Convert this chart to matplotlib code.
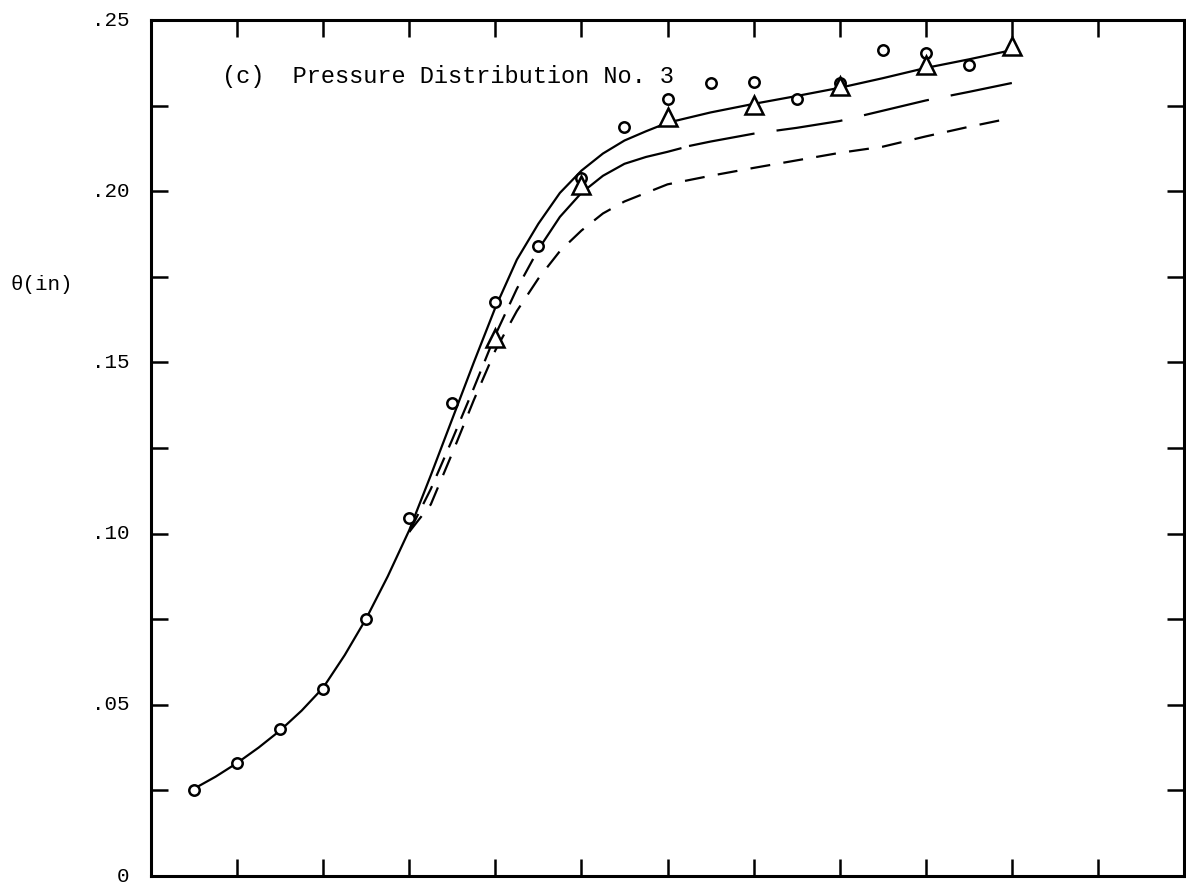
import matplotlib
matplotlib.use("Agg")
import matplotlib.pyplot as plt

# ---- data ----
circle_x = [0.5, 1.0, 1.5, 2.0, 2.5, 3.0, 3.5, 4.0, 4.5, 5.0, 5.5, 6.0, 6.5, 7.0, 7.5, 8.0, 8.5, 9.0, 9.5]
circle_y = [0.0251, 0.0330, 0.0429, 0.0546, 0.0751, 0.1046, 0.1380, 0.1676, 0.1840, 0.2040,
            0.2188, 0.2270, 0.2316, 0.2319, 0.2269, 0.2315, 0.2412, 0.2403, 0.2369]

tri_x = [4.0, 5.0, 6.0, 7.0, 8.0, 9.0, 10.0]
tri_y = [0.1570, 0.2018, 0.2217, 0.2252, 0.2307, 0.2369, 0.2424]

upper_x = [0.5, 0.75, 1.0, 1.25, 1.5, 1.75, 2.0, 2.25, 2.5, 2.75, 3.0, 3.25, 3.5, 3.75, 4.0,
           4.25, 4.5, 4.75, 5.0, 5.25, 5.5, 5.75, 6.0, 6.5, 7.0, 7.5, 8.0, 8.5, 9.0, 9.5, 10.0]
upper_y = [0.0255, 0.0290, 0.0330, 0.0375, 0.0425, 0.0483, 0.0550, 0.0645, 0.0752, 0.0875,
           0.1010, 0.1170, 0.1335, 0.1500, 0.1660, 0.1800, 0.1905, 0.1995, 0.2060, 0.2110,
           0.2148, 0.2175, 0.2200, 0.2230, 0.2255, 0.2278, 0.2302, 0.2330, 0.2360, 0.2385, 0.2412]

midlo_x = [3.0, 3.25, 3.5, 3.75, 4.0, 4.25, 4.5]
midlo_y = [0.1005, 0.1130, 0.1275, 0.1425, 0.1580, 0.1715, 0.1830]

midsolid_x = [4.5, 4.75, 5.0, 5.25, 5.5, 5.75, 6.0, 6.15]
midsolid_y = [0.1830, 0.1925, 0.1995, 0.2045, 0.2080, 0.2100, 0.2115, 0.2125]

midhi_x = [6.25, 6.5, 7.0, 7.5, 8.0, 8.5, 9.0, 9.5, 10.0]
midhi_y = [0.2132, 0.2145, 0.2168, 0.2185, 0.2205, 0.2235, 0.2265, 0.2290, 0.2316]

lower_x = [3.0, 3.25, 3.5, 3.75, 4.0, 4.25, 4.5, 4.75, 5.0, 5.25, 5.5, 5.75, 6.0, 6.5,
           7.0, 7.5, 8.0, 8.5, 9.0, 9.5, 10.0]
lower_y = [0.1005, 0.1085, 0.1235, 0.1390, 0.1535, 0.1650, 0.1745, 0.1825, 0.1885, 0.1935,
           0.1970, 0.1995, 0.2020, 0.2045, 0.2068, 0.2090, 0.2112, 0.2130, 0.2160, 0.2188, 0.2214]

xticks = list(range(1, 12))
yticks_minor = [0.025 * i for i in range(11)]
ytick_vals = [0.0, 0.05, 0.10, 0.15, 0.20, 0.25]
ytick_labels = ["0", ".05", ".10", ".15", ".20", ".25"]
title_text = "(c)  Pressure Distribution No. 3"
ylabel_text = "\u03b8(in)"

# ---- figure ----
fig = plt.figure(figsize=(11.86, 8.85), dpi=100)
ax = fig.add_axes([151/1186, 1 - 876/885, (1184 - 151)/1186, (876 - 20)/885])
ax.set_xlim(0, 12)
ax.set_ylim(0, 0.25)

lw = 1.6
ax.plot(upper_x, upper_y, color="black", lw=lw, solid_capstyle="butt")
ax.plot(midlo_x, midlo_y, color="black", lw=lw, dashes=(9, 5))
ax.plot(midsolid_x, midsolid_y, color="black", lw=lw)
ax.plot(midhi_x, midhi_y, color="black", lw=lw, dashes=(30, 10))
ax.plot(lower_x, lower_y, color="black", lw=lw, dashes=(9, 6))

ax.plot(circle_x, circle_y, linestyle="none", marker="o", ms=7.5, mfc="white",
        mec="black", mew=1.8, zorder=5)
ax.plot(tri_x, tri_y, linestyle="none", marker="^", ms=13, mfc="white",
        mec="black", mew=1.8, zorder=5)

# ticks
ax.set_xticks(xticks)
ax.set_xticklabels([])
ax.set_yticks(yticks_minor)
ax.set_yticklabels([])
ax.tick_params(axis="both", direction="in", length=12, width=1.8,
               top=True, right=True, bottom=True, left=True)
for s in ax.spines.values():
    s.set_linewidth(2.2)

mono = "Liberation Mono"
for v, lab in zip(ytick_vals, ytick_labels):
    ax.text(-0.25, v, lab, ha="right", va="center", fontsize=15,
            family=mono, transform=ax.transData, clip_on=False)

ax.text(0.83, 0.2335, title_text, fontsize=17, family=mono, ha="left", va="center")
fig.text(10/1186, 1 - 285/885, ylabel_text, fontsize=15, family=mono,
         ha="left", va="center")

fig.savefig("out.png", dpi=100)
